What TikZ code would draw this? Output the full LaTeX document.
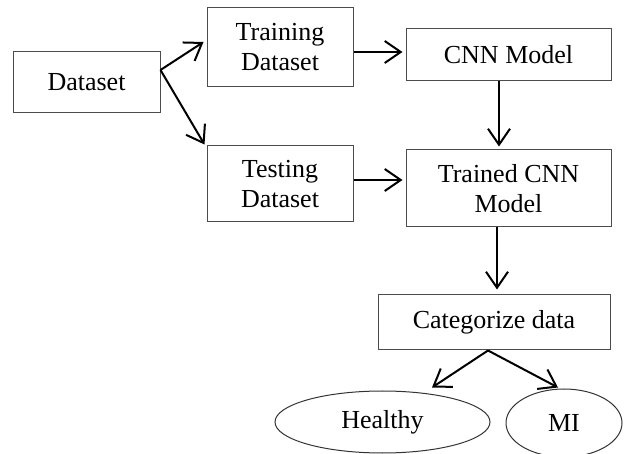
\documentclass[tikz,border=0pt]{standalone}
\usepackage{fontspec}
\setmainfont{Liberation Serif}
\usepackage{tikz}
\usetikzlibrary{arrows.meta,positioning,shapes.geometric,calc}

\begin{document}
\begin{tikzpicture}[
    x=0.5pt, y=-0.5pt,
    font=\fontsize{13}{15}\selectfont,
    box/.style={rectangle, draw=black!70, line width=0.5pt, align=center, inner sep=0pt},
    oval/.style={ellipse, draw=black!80, line width=0.5pt, inner sep=0pt},
    arrow/.style={-{Straight Barb[length=8pt, width=11pt]}, draw=black, line width=1pt}
]
\useasboundingbox (0,0) rectangle (627,454);
\node[box, minimum width=73.5pt, minimum height=30.5pt] (data) at (86.5,82.5) {Dataset};
\node[box, minimum width=73pt, minimum height=39.5pt] (train) at (280,47.5) {Training\\Dataset};
\node[box, minimum width=73pt, minimum height=38pt] (test) at (280,184) {Testing\\Dataset};
\node[box, minimum width=102.5pt, minimum height=26pt] (cnn) at (508.5,55) {CNN Model};
\node[box, minimum width=102.5pt, minimum height=38.5pt] (trained) at (508.5,188.5) {Trained CNN\\Model};
\node[box, minimum width=116pt, minimum height=27.5pt] (cat) at (494,322.5) {Categorize data};
\node[oval, minimum width=107.5pt, minimum height=31pt] (healthy) at (382.5,422) {Healthy};
\node[oval, minimum width=58pt, minimum height=34pt] (mi) at (564,423) {MI};
\draw[arrow] ($(data.east)+(0,-12.5)$) -- ($(train.west)+(-3,-5.5)$);
\draw[arrow] ($(data.east)+(0,-12.5)$) -- ($(test.north west)+(-2,-1)$);
\draw[arrow] ([yshift=-2.25pt]train.east) -- ([xshift=-1.5pt, yshift=-2.25pt]train.east -| cnn.west);
\draw[arrow] ([yshift=2pt]test.east) -- ([xshift=-1.5pt, yshift=2pt]test.east -| trained.west);
\draw[arrow] ([xshift=-4.75pt]cnn.south) -- ([xshift=-4.75pt, yshift=1.5pt]cnn.south |- trained.north);
\draw[arrow] ([xshift=-5.75pt]trained.south) -- ([xshift=-5.75pt, yshift=2.5pt]trained.south |- cat.north);
\draw[arrow] ($(cat.south)+(-6,0)$) -- ($(healthy.north)+(49.5,-3)$);
\draw[arrow] ($(cat.south)+(-6,0)$) -- ($(mi.north)+(-6,-1)$);
\end{tikzpicture}
\end{document}
